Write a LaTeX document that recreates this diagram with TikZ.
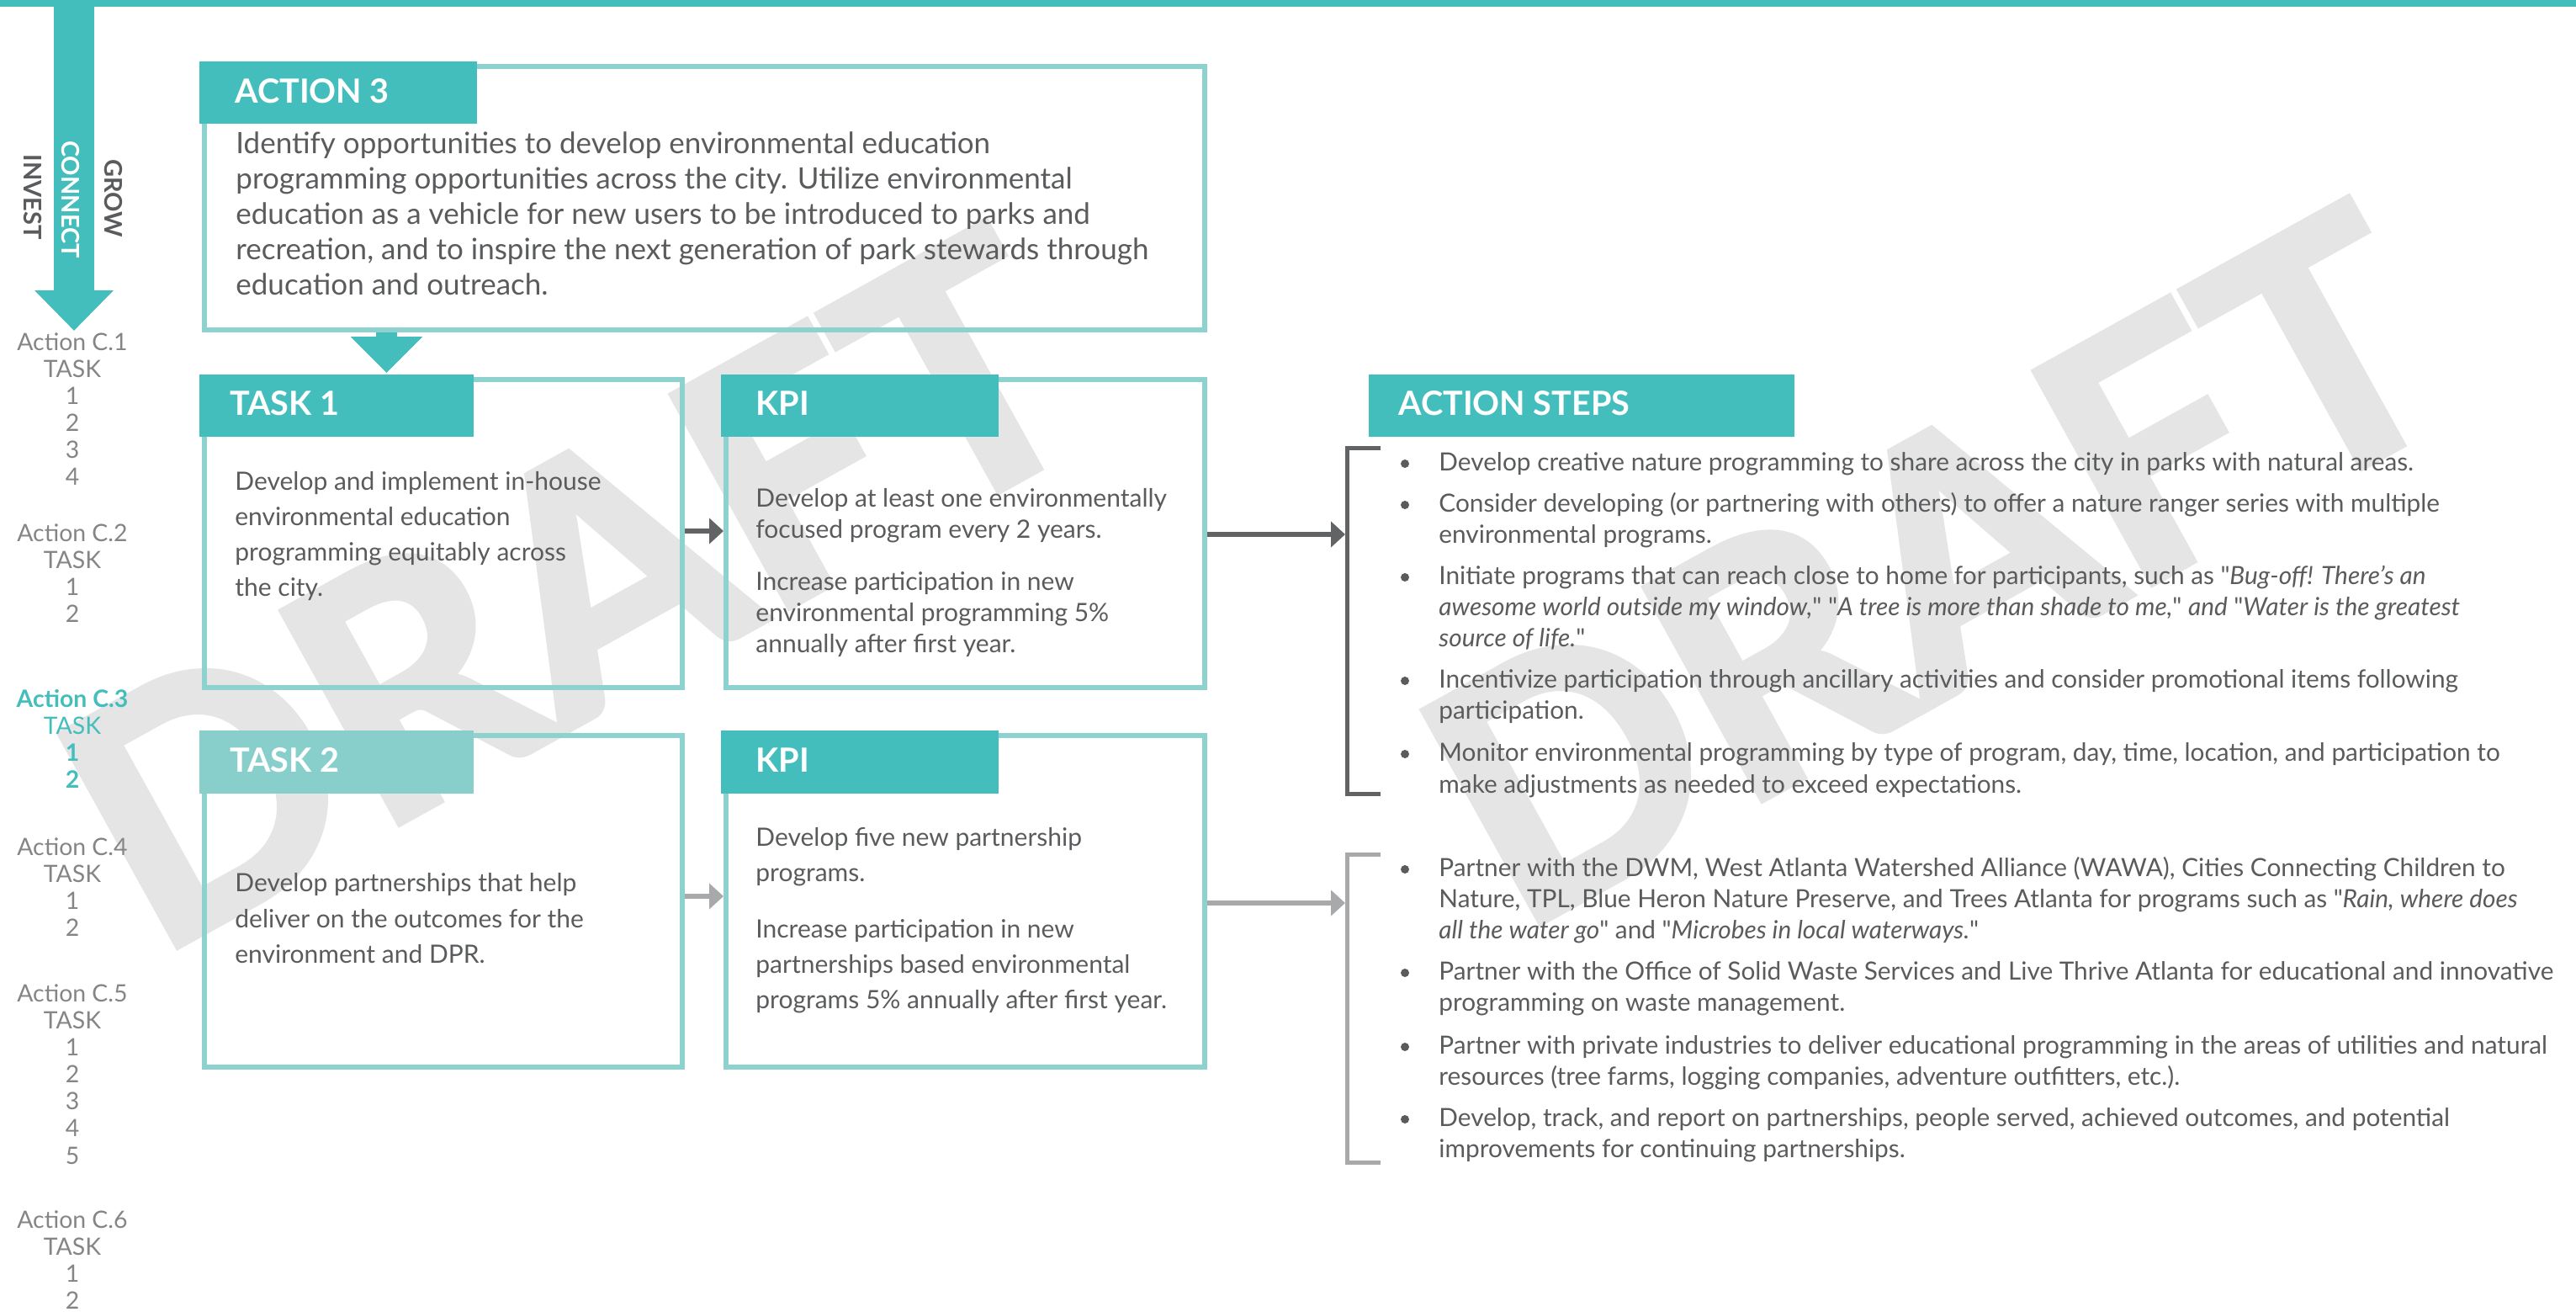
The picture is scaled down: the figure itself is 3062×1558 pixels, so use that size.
\documentclass[tikz,border=0pt]{standalone}
\usepackage{fontspec}
\setmainfont{Lato}[Ligatures=TeXOff]
\newfontfamily\wmfont{Lato}[FakeBold=2.5]
\usetikzlibrary{arrows.meta}
\definecolor{teal1}{HTML}{44BDBD}
\definecolor{teal2}{HTML}{88CFCB}
\definecolor{lteal}{HTML}{8ED2D0}
\definecolor{txt}{HTML}{5A5B5D}
\definecolor{side}{HTML}{848587}
\definecolor{dgray}{HTML}{626365}
\definecolor{lgray}{HTML}{A8A9AB}
\definecolor{wmgray}{HTML}{E5E5E5}
\begin{document}
\begin{tikzpicture}[x=0.5pt,y=-0.5pt,
  box/.style={draw=lteal, line width=3pt, inner sep=0pt, anchor=north west},
  hdr/.style={fill=teal1, inner sep=0pt, anchor=north west, minimum height=37pt},
  hdrtext/.style={text=white, font=\fontsize{19.8}{19.8}\selectfont\bfseries, anchor=base west, inner sep=0pt},
  atext/.style={text=txt, font=\fontsize{17.5}{20}\selectfont, anchor=base west, inner sep=0pt},
  btext/.style={text=txt, font=\fontsize{15}{18}\selectfont, anchor=base west, inner sep=0pt},
  stext/.style={text=txt, font=\fontsize{14.9}{17}\selectfont, anchor=base west, inner sep=0pt},
  sidetext/.style={text=side, font=\fontsize{14.2}{16}\selectfont, anchor=base, inner sep=0pt},
  sidecur/.style={text=teal1, font=\fontsize{14.2}{16}\selectfont\bfseries, anchor=base, inner sep=0pt},
  vlabel/.style={font=\fontsize{14.5}{14.5}\selectfont\bfseries, rotate=-90, inner sep=0pt},
  wm/.style={text=wmgray, font=\fontsize{198}{198}\wmfont\bfseries, inner sep=0pt, rotate=29},
  bul/.style={circle, fill=txt, inner sep=0pt, minimum size=5pt},
  darrow/.style={draw=dgray, line width=3pt, -{Triangle[length=8.5pt,width=15pt]}},
  larrow/.style={draw=lgray, line width=3pt, -{Triangle[length=8.5pt,width=15pt]}},
  bracketd/.style={draw=dgray, line width=2.5pt},
  bracketl/.style={draw=lgray, line width=2.5pt}
]
\useasboundingbox (0,0) rectangle (3062,1558);

% watermarks
\node[wm] (wm1) at (680,700) {DRAFT};
\node[wm] (wm2) at (2300,672) {DRAFT};

% top bar and side arrow
\fill[teal1] (0,0) rectangle (3062,8);
\coordinate (sbtop) at (88,0);
\coordinate (sbtip) at (88,393);
\draw[teal1, line width=24pt, -{Triangle[length=24pt,width=45.5pt]}] (sbtop) -- (sbtip);
\node[vlabel, text=txt] (invest) at (39,234) {INVEST};
\node[vlabel, text=white] (connect) at (84,237) {CONNECT};
\node[vlabel, text=txt] (grow) at (135,236) {GROW};

% sidebar
\node[sidetext] (c1) at (86,416) {Action C.1};
\node[sidetext] (c1t) at (86,448) {TASK};
\foreach \i in {1,...,4} { \node[sidetext] (c1n\i) at (86,448+32.2*\i) {\i}; }
\node[sidetext] (c2) at (86,643) {Action C.2};
\node[sidetext] (c2t) at (86,675) {TASK};
\foreach \i in {1,2} { \node[sidetext] (c2n\i) at (86,675+32.2*\i) {\i}; }
\node[sidecur] (c3) at (86,840) {Action C.3};
\node[sidetext, text=teal1] (c3t) at (86,872) {TASK};
\foreach \i in {1,2} { \node[sidecur] (c3n\i) at (86,872+32.2*\i) {\i}; }
\node[sidetext] (c4) at (86,1016) {Action C.4};
\node[sidetext] (c4t) at (86,1048) {TASK};
\foreach \i in {1,2} { \node[sidetext] (c4n\i) at (86,1048+32.2*\i) {\i}; }
\node[sidetext] (c5) at (86,1190) {Action C.5};
\node[sidetext] (c5t) at (86,1222) {TASK};
\foreach \i in {1,...,5} { \node[sidetext] (c5n\i) at (86,1222+32.2*\i) {\i}; }
\node[sidetext] (c6) at (86,1459) {Action C.6};
\node[sidetext] (c6t) at (86,1491) {TASK};
\foreach \i in {1,2} { \node[sidetext] (c6n\i) at (86,1491+32.2*\i) {\i}; }

% boxes
\node[box, minimum width=594.5pt, minimum height=156.5pt] (a3) at (240,76) {};
\node[box, minimum width=284pt, minimum height=183pt] (t1) at (240,448) {};
\node[box, minimum width=284.5pt, minimum height=183pt] (k1) at (860,448) {};
\node[box, minimum width=284pt, minimum height=197pt] (t2) at (240,871) {};
\node[box, minimum width=284.5pt, minimum height=197pt] (k2) at (860,871) {};

% headers
\node[hdr, minimum width=165pt] (a3h) at (237,73) {};
\node[hdr, minimum width=163pt] (t1h) at (237,445) {};
\node[hdr, minimum width=165pt] (k1h) at (857,445) {};
\node[hdr, fill=teal2, minimum width=163pt, minimum height=37.5pt] (t2h) at (237,868) {};
\node[hdr, minimum width=165pt, minimum height=37.5pt] (k2h) at (857,868) {};
\node[hdr, minimum width=253pt] (ash) at (1627,445) {};
\node[hdrtext] (a3ht) at (279,122) {ACTION 3};
\node[hdrtext] (t1ht) at (273,493) {TASK 1};
\node[hdrtext] (k1ht) at (898,493) {KPI};
\node[hdrtext] (t2ht) at (273,917) {TASK 2};
\node[hdrtext] (k2ht) at (898,917) {KPI};
\node[hdrtext] (asht) at (1662,493) {ACTION STEPS};

% connectors
\draw[teal1, line width=12.5pt, -{Triangle[length=21.5pt,width=41.5pt]}, shorten >=2.5pt] (a3.south -| 459.5,0) -- (t1.north -| 459.5,0);
\coordinate (br1) at (1599,635);
\coordinate (br2) at (1599,1073);
\draw[darrow] (t1.east |- 0,631) -- (k1.west |- 0,631);
\draw[larrow] (t2.east |- 0,1065) -- (k2.west |- 0,1065);
\draw[darrow] (k1.east |- br1) -- (br1);
\draw[larrow] (k2.east |- br2) -- (br2);
\draw[bracketd] (1641,532) -- (1601.5,532) -- (1601.5,943) -- (1641,943);
\draw[bracketl] (1641,1015.5) -- (1601.5,1015.5) -- (1601.5,1381.5) -- (1641,1381.5);

% action 3 text
\node[atext] (a3l1) at (280,182) {Identify opportunities to develop environmental education};
\node[atext] (a3l2) at (280,224) {programming opportunities across the city. Utilize environmental};
\node[atext] (a3l3) at (280,266) {education as a vehicle for new users to be introduced to parks and};
\node[atext] (a3l4) at (280,308) {recreation, and to inspire the next generation of park stewards through};
\node[atext] (a3l5) at (280,350) {education and outreach.};

% task 1
\node[btext] (t1l1) at (279,582) {Develop and implement in-house};
\node[btext] (t1l2) at (279,624) {environmental education};
\node[btext] (t1l3) at (279,666) {programming equitably across};
\node[btext] (t1l4) at (279,708) {the city.};

% kpi 1
\node[btext] (k1l1) at (898,602) {Develop at least one environmentally};
\node[btext] (k1l2) at (898,639) {focused program every 2 years.};
\node[btext] (k1l3) at (898,701) {Increase participation in new};
\node[btext] (k1l4) at (898,738) {environmental programming 5\%};
\node[btext] (k1l5) at (898,775) {annually after first year.};

% task 2
\node[btext] (t2l1) at (279,1059) {Develop partnerships that help};
\node[btext] (t2l2) at (279,1102) {deliver on the outcomes for the};
\node[btext] (t2l3) at (279,1144) {environment and DPR.};

% kpi 2
\node[btext] (k2l1) at (898,1005) {Develop five new partnership};
\node[btext] (k2l2) at (898,1047) {programs.};
\node[btext] (k2l3) at (898,1114) {Increase participation in new};
\node[btext] (k2l4) at (898,1156) {partnerships based environmental};
\node[btext] (k2l5) at (898,1198) {programs 5\% annually after first year.};

% action steps group 1
\node[bul] (b1) at (1670,551) {};
\node[bul] (b2) at (1670,600) {};
\node[bul] (b3) at (1670,686) {};
\node[bul] (b4) at (1670,809) {};
\node[bul] (b5) at (1670,896) {};
\node[stext] (s1a) at (1710,559) {Develop creative nature programming to share across the city in parks with natural areas.};
\node[stext] (s2a) at (1710,608) {Consider developing (or partnering with others) to offer a nature ranger series with multiple};
\node[stext] (s2b) at (1710,645) {environmental programs.};
\node[stext] (s3a) at (1710,694) {Initiate programs that can reach close to home for participants, such as "\textit{Bug-off! There’s an}};
\node[stext] (s3b) at (1710,731) {\textit{awesome world outside my window,}" "\textit{A tree is more than shade to me,}" \textit{and} "\textit{Water is the greatest}};
\node[stext] (s3c) at (1710,768) {\textit{source of life.}"};
\node[stext] (s4a) at (1710,817) {Incentivize participation through ancillary activities and consider promotional items following};
\node[stext] (s4b) at (1710,854) {participation.};
\node[stext] (s5a) at (1710,904) {Monitor environmental programming by type of program, day, time, location, and participation to};
\node[stext] (s5b) at (1710,942) {make adjustments as needed to exceed expectations.};

% action steps group 2
\node[bul] (b6) at (1670,1033) {};
\node[bul] (b7) at (1670,1156) {};
\node[bul] (b8) at (1670,1244) {};
\node[bul] (b9) at (1670,1330) {};
\node[stext] (p1a) at (1710,1041) {Partner with the DWM, West Atlanta Watershed Alliance (WAWA), Cities Connecting Children to};
\node[stext] (p1b) at (1710,1078) {Nature, TPL, Blue Heron Nature Preserve, and Trees Atlanta for programs such as "\textit{Rain, where does}};
\node[stext] (p1c) at (1710,1115) {\textit{all the water go}" and "\textit{Microbes in local waterways.}"};
\node[stext] (p2a) at (1710,1164) {Partner with the Office of Solid Waste Services and Live Thrive Atlanta for educational and innovative};
\node[stext] (p2b) at (1710,1201) {programming on waste management.};
\node[stext] (p3a) at (1710,1252) {Partner with private industries to deliver educational programming in the areas of utilities and natural};
\node[stext] (p3b) at (1710,1289) {resources (tree farms, logging companies, adventure outfitters, etc.).};
\node[stext] (p4a) at (1710,1338) {Develop, track, and report on partnerships, people served, achieved outcomes, and potential};
\node[stext] (p4b) at (1710,1375) {improvements for continuing partnerships.};
\end{tikzpicture}
\end{document}
